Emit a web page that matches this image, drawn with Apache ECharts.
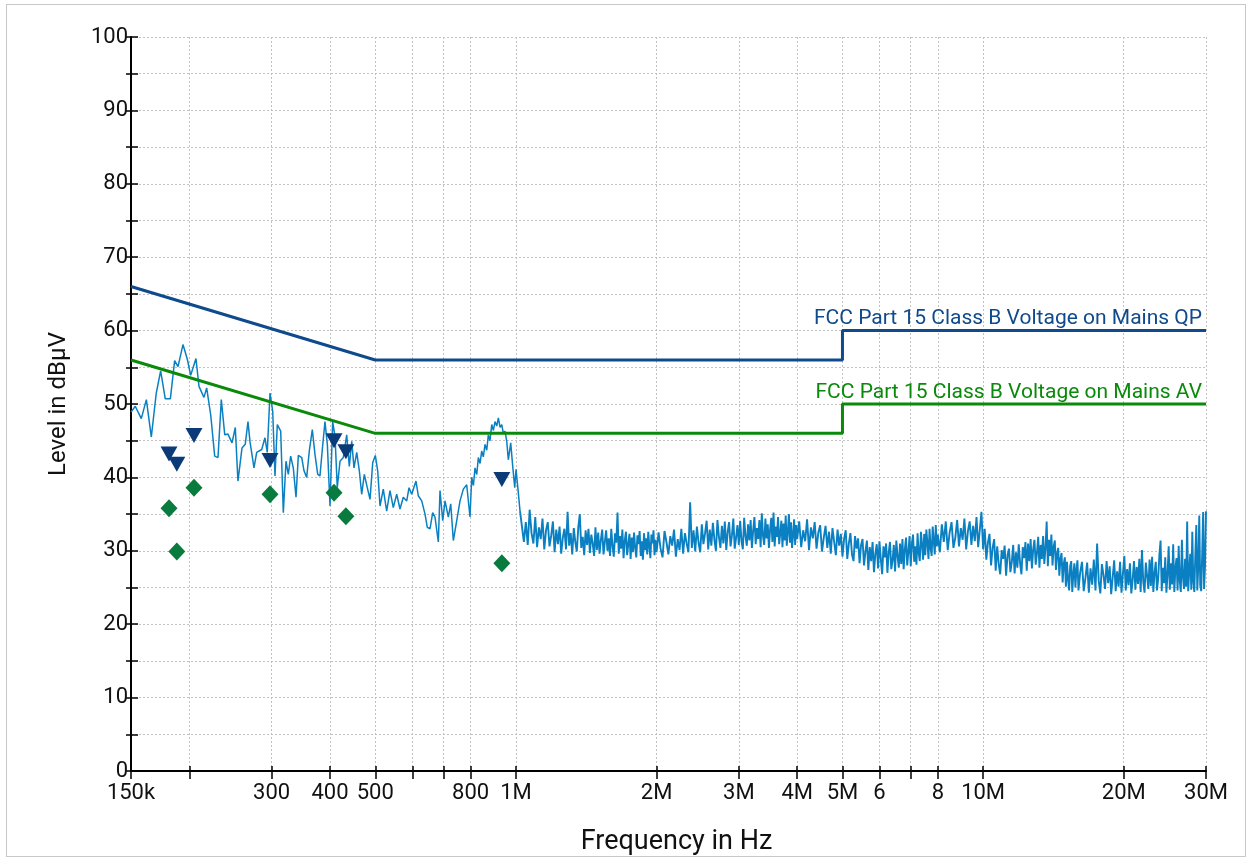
<!DOCTYPE html>
<html><head><meta charset="utf-8">
<script src="https://cdn.jsdelivr.net/npm/echarts@6/dist/echarts.min.js"></script>
<style>
html,body{margin:0;padding:0;background:#fff;}
#frame{position:absolute;left:6px;top:4px;width:1238px;height:851px;border:1px solid #c8c8c8;}
#chart{position:absolute;left:0;top:0;width:1249px;height:861px;}
</style></head><body>
<div id="frame"></div><div id="chart"></div>
<script>
// x ticks (MHz) and their labels
const tickFreqMHz = [0.15,0.2,0.3,0.4,0.5,0.6,0.7,0.8,1,2,3,4,5,6,7,8,10,20,30];
const tickLabelText = ['150k','','300','400','500','','','800','1M','2M','3M','4M','5M','6','','8','10M','20M','30M'];
// limit lines [MHz, dBµV]
const qpLimit = [[0.15,66],[0.5,56],[5,56],[5,60],[30,60]];
const avLimit = [[0.15,56],[0.5,46],[5,46],[5,50],[30,50]];
const qpLimitName = 'FCC Part 15 Class B Voltage on Mains QP';
const avLimitName = 'FCC Part 15 Class B Voltage on Mains AV';
// final measurements [kHz, dBµV]
const qpFinal = [[180.9,43.2],[188.0,41.8],[204.6,45.7],[297.6,42.3],[408.0,45.0],[432.6,43.5],[933.0,39.7]];
const avFinal = [[180.9,35.8],[188.0,29.9],[204.6,38.6],[297.6,37.7],[408.0,37.9],[432.6,34.7],[933.0,28.3]];
// preview scan below ~1 MHz [kHz, dBµV]
const traceLowKHz = [[150,48.9],[153.2,49.7],[157.8,48.0],[161.8,50.6],[165.8,45.5],[169.9,51.5],[173.6,54.5],[177.6,50.7],[182.1,50.7],[186.0,55.9],[189.1,55.1],[193.8,58.1],[198.0,56.1],[201.3,53.9],[206.6,56.2],[209.7,52.4],[214.9,50.9],[217.8,52.2],[222.2,48.5],[226.6,42.9],[230.3,42.7],[234.1,50.6],[238.1,45.8],[241.9,45.9],[246.8,44.7],[250.8,46.8],[254.1,39.5],[259.2,44.0],[263.4,44.5],[267.0,47.6],[269.6,44.9],[275.0,41.3],[278.7,43.4],[285.7,43.8],[290.3,45.4],[293.6,43.4],[297.6,51.5],[301.6,49.0],[305.0,40.2],[308.5,47.2],[313.7,46.3],[317.8,35.2],[322.0,42.2],[325.7,40.4],[329.5,42.9],[333.8,41.3],[338.3,37.3],[342.2,43.0],[348.0,42.7],[351.9,40.9],[356.6,40.0],[361.2,43.6],[366.6,46.5],[371.5,43.1],[376.5,40.4],[380.7,40.2],[385.1,43.8],[390.2,47.6],[394.8,44.5],[400.0,36.1],[405.3,47.6],[410.0,45.6],[414.6,38.6],[420.2,42.2],[427.1,42.7],[434.3,45.8],[439.9,41.5],[445.2,44.9],[450.2,41.3],[456.3,43.4],[462.2,40.9],[467.6,37.7],[473.7,40.4],[480.7,38.6],[487.2,37.0],[493.7,42.0],[500.1,43.0],[506.0,40.9],[511.8,36.1],[520.1,38.4],[528.9,35.4],[537.6,38.2],[546.4,35.9],[555.7,37.7],[564.8,35.7],[574.0,37.3],[583.8,36.8],[590.5,38.6],[598.3,37.7],[611.1,39.5],[618.1,37.5],[628.6,36.8],[638.9,35.0],[646.2,33.2],[654.8,33.0],[663.6,35.2],[671.1,34.6],[682.2,31.2],[687.9,38.2],[697.2,34.1],[705.1,36.8],[716.7,34.6],[725.2,36.4],[734.6,31.4],[747.0,34.1],[759.2,36.8],[771.7,38.4],[784.6,39.0],[797.5,34.6],[804.2,40.0],[811.0,38.9],[817.4,41.3],[824.5,40.4],[830.9,42.7],[838.0,41.9],[844.8,43.6],[851.5,42.8],[858.8,44.5],[866.0,43.7],[872.9,45.8],[880.0,45.0],[887.7,47.2],[895.0,46.4],[902.1,47.6],[910.0,47.0],[917.0,48.1],[925.0,46.8],[932.6,47.2],[940.0,46.0],[947.7,46.3],[955.8,44.9],[963.3,42.4],[974.7,44.7],[984.4,41.5],[994.2,38.6],[1000.6,41.1],[1012.0,37.9],[1020.4,35.4]];
// preview scan 1 - 30 MHz [MHz, dBµV]
const traceHighMHz = [[1.03,35.2],[1.04,31.2],[1.05,33.9],[1.06,30.8],[1.07,35.6],[1.08,32.4],[1.09,31.0],[1.10,34.6],[1.11,30.5],[1.12,33.2],[1.13,31.6],[1.14,34.4],[1.15,30.2],[1.16,32.8],[1.17,33.9],[1.18,30.6],[1.19,32.1],[1.20,34.0],[1.21,29.8],[1.22,32.9],[1.23,30.9],[1.24,33.3],[1.25,29.6],[1.26,31.8],[1.27,33.0],[1.28,30.2],[1.29,35.3],[1.30,30.7],[1.31,32.4],[1.32,29.5],[1.33,33.1],[1.34,31.2],[1.35,29.9],[1.36,33.2],[1.37,35.0],[1.38,30.4],[1.39,31.9],[1.40,29.4],[1.41,32.8],[1.42,30.8],[1.43,33.0],[1.44,29.7],[1.45,32.2],[1.46,31.0],[1.47,29.3],[1.48,33.2],[1.49,30.1],[1.50,32.5],[1.51,29.6],[1.52,31.5],[1.53,32.9],[1.54,29.5],[1.55,31.2],[1.56,32.8],[1.57,30.0],[1.58,31.7],[1.59,29.3],[1.60,33.0],[1.61,30.6],[1.62,29.2],[1.63,32.4],[1.64,31.1],[1.65,35.2],[1.66,29.6],[1.67,32.0],[1.68,30.3],[1.69,32.9],[1.70,29.0],[1.71,31.4],[1.72,32.6],[1.73,29.4],[1.74,30.9],[1.75,32.3],[1.76,28.9],[1.77,31.8],[1.78,29.8],[1.79,32.5],[1.80,30.4],[1.81,29.1],[1.82,32.1],[1.83,30.9],[1.84,32.7],[1.85,29.3],[1.86,31.3],[1.87,28.8],[1.88,32.4],[1.89,30.1],[1.90,31.7],[1.91,29.5],[1.92,32.6],[1.93,30.6],[1.94,29.0],[1.95,32.2],[1.96,31.0],[1.97,32.8],[1.98,29.4],[1.99,31.5],[2.00,29.8],
[2.02,32.5],[2.04,30.3],[2.06,29.1],[2.08,32.7],[2.10,31.2],[2.12,29.5],[2.14,32.0],[2.16,30.7],[2.18,32.9],[2.20,29.2],[2.22,31.6],[2.24,30.1],[2.26,33.0],[2.28,29.6],[2.30,32.4],[2.32,31.0],[2.34,29.8],[2.36,36.6],[2.38,30.4],[2.40,32.8],[2.42,29.9],[2.44,33.3],[2.46,31.1],[2.48,29.8],[2.50,33.6],[2.52,30.9],[2.54,32.4],[2.56,34.1],[2.58,30.2],[2.60,32.9],[2.62,30.7],[2.64,33.8],[2.66,31.5],[2.68,30.0],[2.70,34.2],[2.72,31.9],[2.74,30.4],[2.76,33.4],[2.78,31.0],[2.80,34.0],[2.82,30.1],[2.84,32.6],[2.86,33.9],[2.88,30.6],[2.90,32.1],[2.92,34.4],[2.94,30.3],[2.96,31.8],[2.98,33.5],[3.00,30.8],[3.02,34.1],[3.04,31.3],[3.06,30.2],[3.08,34.5],[3.10,32.0],[3.12,30.7],[3.14,33.6],[3.16,31.4],[3.18,34.2],[3.20,30.4],[3.22,32.8],[3.24,34.6],[3.26,30.9],[3.28,33.1],[3.30,31.6],[3.32,34.2],[3.34,30.5],[3.36,35.1],[3.38,32.0],[3.40,30.8],[3.42,34.4],[3.44,31.7],[3.46,33.6],[3.48,30.4],[3.50,32.9],[3.52,34.5],[3.54,31.2],[3.56,35.2],[3.58,30.6],[3.60,33.3],[3.62,31.9],[3.64,34.6],[3.66,30.9],[3.68,32.4],[3.70,34.1],[3.72,30.5],[3.74,33.7],[3.76,31.4],[3.78,34.8],[3.80,30.7],[3.82,32.6],[3.84,35.0],[3.86,31.1],[3.88,33.9],[3.90,30.4],[3.92,32.2],[3.94,34.3],[3.96,30.8],[3.98,33.5],[4.00,31.6],
[4.04,34.0],[4.08,30.5],[4.12,32.8],[4.16,31.3],[4.20,34.3],[4.24,30.1],[4.28,33.2],[4.32,31.7],[4.36,33.9],[4.40,30.3],[4.44,32.5],[4.48,33.5],[4.52,29.9],[4.56,31.8],[4.60,33.4],[4.64,30.4],[4.68,32.6],[4.72,29.6],[4.76,33.1],[4.80,31.2],[4.84,29.4],[4.88,32.9],[4.92,30.7],[4.96,32.3],[5.00,29.2],[5.04,31.6],[5.08,32.8],[5.12,28.9],[5.16,31.0],[5.20,32.4],[5.24,29.5],[5.28,28.6],[5.32,32.0],[5.36,30.3],[5.40,31.7],[5.44,28.3],[5.48,30.8],[5.52,31.6],[5.56,28.0],[5.60,29.9],[5.64,31.4],[5.68,27.4],[5.72,30.5],[5.76,28.6],[5.80,31.2],[5.84,27.1],[5.88,29.6],[5.92,30.9],[5.96,27.6],[6.00,31.3],[6.04,28.9],[6.08,26.8],[6.12,30.6],[6.16,29.1],[6.20,31.0],[6.24,27.0],[6.28,29.8],[6.32,31.2],[6.36,27.5],[6.40,28.7],[6.44,30.8],[6.48,27.2],[6.52,31.4],[6.56,29.3],[6.60,27.7],[6.64,31.0],[6.68,28.2],[6.72,31.6],[6.76,27.5],[6.80,30.2],[6.84,31.8],[6.88,28.0],[6.92,29.9],[6.96,32.0],[7.00,27.9],[7.04,31.0],[7.08,32.2],[7.12,28.5],[7.16,30.6],[7.20,28.1],[7.24,32.4],[7.28,29.7],[7.32,28.6],[7.36,32.6],[7.40,30.9],[7.44,28.8],[7.48,32.3],[7.52,29.4],[7.56,32.9],[7.60,31.1],[7.64,28.9],[7.68,33.0],[7.72,30.4],[7.76,29.3],[7.80,33.3],[7.84,31.4],[7.88,29.5],[7.92,33.5],[7.96,30.6],[8.00,32.2],
[8.08,29.8],[8.16,33.6],[8.24,31.2],[8.32,34.0],[8.40,30.1],[8.48,32.5],[8.56,33.9],[8.64,30.4],[8.72,31.8],[8.80,34.2],[8.88,30.6],[8.96,33.1],[9.04,31.5],[9.12,34.4],[9.20,30.2],[9.28,32.7],[9.36,34.0],[9.44,30.8],[9.52,33.4],[9.60,31.3],[9.68,34.6],[9.76,30.5],[9.84,32.9],[9.92,35.3],[10.00,30.2],[10.08,33.0],[10.16,28.8],[10.24,31.1],[10.32,32.3],[10.40,28.0],[10.48,30.4],[10.56,31.6],[10.64,27.3],[10.72,30.6],[10.80,28.2],[10.88,26.8],[10.96,30.1],[11.04,28.9],[11.12,30.7],[11.20,26.6],[11.28,29.4],[11.36,30.3],[11.44,27.1],[11.52,28.5],[11.60,30.8],[11.68,26.9],[11.76,29.8],[11.84,27.7],[11.92,30.9],[12.00,28.3],[12.08,26.8],[12.16,30.5],[12.24,29.0],[12.32,31.2],[12.40,27.3],[12.48,31.0],[12.56,28.6],[12.64,31.6],[12.72,27.6],[12.80,30.2],[12.88,31.5],[12.96,28.1],[13.04,29.7],[13.12,31.9],[13.20,27.7],[13.28,30.8],[13.36,28.9],[13.44,32.0],[13.52,28.2],[13.60,30.4],[13.68,34.0],[13.76,27.9],[13.84,31.5],[13.92,29.3],[14.00,32.2],[14.08,28.0],[14.16,30.6],[14.24,31.4],[14.32,27.4],[14.40,29.6],[14.48,30.4],[14.56,26.6],[14.64,28.9],[14.72,29.7],[14.80,25.7],[14.88,28.2],[14.96,29.1],[15.04,25.1],[15.12,28.5],[15.20,26.1],[15.28,24.6],[15.36,27.9],[15.44,28.6],[15.52,24.4],[15.60,26.8],[15.68,28.3],[15.76,25.0],[15.84,27.4],[15.92,28.7],[16.00,24.6],
[16.14,27.1],[16.28,28.5],[16.42,24.5],[16.56,26.3],[16.70,28.4],[16.84,24.3],[16.98,27.6],[17.12,25.4],[17.26,28.8],[17.40,24.6],[17.54,31.0],[17.68,25.9],[17.82,24.2],[17.96,28.2],[18.10,26.7],[18.24,24.8],[18.38,28.6],[18.52,25.6],[18.66,27.9],[18.80,24.1],[18.94,26.4],[19.08,28.7],[19.22,24.5],[19.36,27.2],[19.50,25.1],[19.64,28.5],[19.78,24.3],[19.92,26.9],[20.06,29.3],[20.20,24.6],[20.34,27.5],[20.48,25.3],[20.62,28.3],[20.76,24.2],[20.90,26.1],[21.04,28.6],[21.18,24.7],[21.32,27.8],[21.46,25.5],[21.60,28.9],[21.74,24.4],[21.88,30.1],[22.02,25.8],[22.16,24.3],[22.30,28.4],[22.44,26.6],[22.58,24.8],[22.72,28.8],[22.86,25.2],[23.00,29.2],[23.14,24.4],[23.28,27.0],[23.42,28.5],[23.56,24.6],[23.70,26.2],[23.84,29.4],[23.98,31.4],[24.12,24.5],[24.26,27.7],[24.40,25.6],[24.54,29.1],[24.68,24.3],[24.82,26.8],[24.96,30.6],[25.10,24.7],[25.24,28.3],[25.38,25.4],[25.52,30.9],[25.66,24.4],[25.80,27.6],[25.94,29.0],[26.08,24.6],[26.22,30.7],[26.36,25.9],[26.50,24.4],[26.64,31.5],[26.78,26.4],[26.92,24.8],[27.06,28.9],[27.20,25.1],[27.34,34.0],[27.48,24.5],[27.62,27.3],[27.76,29.6],[27.90,24.7],[28.04,32.6],[28.18,25.8],[28.32,24.4],[28.46,29.4],[28.60,33.5],[28.74,24.6],[28.88,27.9],[29.02,34.8],[29.16,25.3],[29.30,24.5],[29.44,29.5],[29.58,35.3],[29.72,24.8],[29.86,28.1],[30.00,35.4]];

const FONT = 'Roboto, "Liberation Sans", Arial, sans-serif';
const TRACE_COLOR = '#0a80c2';
const lg = Math.log10;
const xMin = lg(tickFreqMHz[0]), xMax = lg(tickFreqMHz[tickFreqMHz.length-1]);
const tickPos = tickFreqMHz.map(lg);
function tickLabel(v){
  const i = tickPos.findIndex(p => Math.abs(p - v) < 1e-6);
  return i >= 0 ? tickLabelText[i] : '';
}
const lowData = traceLowKHz.map(d => [lg(d[0]/1000), d[1]]);
const highData = [lowData[lowData.length - 1]].concat(traceHighMHz.map(d => [lg(d[0]), d[1]]));
const toXY = arr => arr.map(d => [lg(d[0]), d[1]]);
function limitSeries(arr, name, color){
  return {
    type: 'line', name: name, data: toXY(arr), symbol: 'none', showSymbol: false,
    lineStyle: {color: color, width: 3}, z: 3, silent: true,
    endLabel: {show: true, formatter: name, align: 'right', verticalAlign: 'bottom', distance: -4,
      color: color, fontSize: 21, fontFamily: FONT, padding: [0, 0, 1, 0]}
  };
}
const chart = echarts.init(document.getElementById('chart'), null, {renderer: 'canvas'});
chart.setOption({
  animation: false,
  backgroundColor: 'transparent',
  grid: {left: 131, right: 43, top: 37, bottom: 86, containLabel: false},
  xAxis: [{
    type: 'value', min: xMin, max: xMax, position: 'bottom',
    axisLine: {show: true, onZero: false, lineStyle: {color: '#000', width: 2}},
    axisTick: {show: true, customValues: tickPos, length: 8, lineStyle: {color: '#000', width: 1.5}},
    axisLabel: {customValues: tickPos, formatter: tickLabel, fontSize: 22, color: '#111', margin: 11, fontFamily: FONT, showMinLabel: true, showMaxLabel: true},
    splitLine: {show: true, lineStyle: {color: '#c2c2c2', width: 1, type: [2, 2]}},
    name: 'Frequency in Hz', nameLocation: 'middle', nameGap: 58,
    nameTextStyle: {fontSize: 27, color: '#111', fontFamily: FONT, padding: [0, 0, 0, 16]}
  }, {
    type: 'value', min: xMin, max: xMax, position: 'bottom',
    axisLine: {show: false, onZero: false},
    axisTick: {show: true, inside: true, customValues: tickPos, length: 5, lineStyle: {color: '#000', width: 1.5}},
    axisLabel: {show: false}, splitLine: {show: false}
  }],
  yAxis: [{
    type: 'value', min: 0, max: 100, interval: 5, position: 'left',
    axisLine: {show: true, onZero: false, lineStyle: {color: '#000', width: 2}},
    axisTick: {show: true, length: 5, lineStyle: {color: '#000', width: 1.5}},
    axisLabel: {formatter: v => (v % 10 === 0 ? String(v) : ''), fontSize: 22, color: '#111', margin: 3, fontFamily: FONT},
    splitLine: {show: true, lineStyle: {color: '#c2c2c2', width: 1, type: [2, 2]}},
    name: 'Level in dBµV', nameLocation: 'middle', nameGap: 60, nameRotate: 90,
    nameTextStyle: {fontSize: 24, color: '#111', fontFamily: FONT}
  }, {
    type: 'value', min: 0, max: 100, interval: 5, position: 'left',
    axisLine: {show: false, onZero: false},
    axisTick: {show: true, inside: true, length: 7, lineStyle: {color: '#000', width: 1.5}},
    axisLabel: {show: false}, splitLine: {show: false}
  }],
  series: [{
    type: 'line', name: 'Preview', data: lowData, showSymbol: false, symbol: 'none',
    lineStyle: {color: TRACE_COLOR, width: 1.5}, z: 2, silent: true
  }, {
    type: 'line', name: 'Preview ', data: highData, showSymbol: false, symbol: 'none',
    lineStyle: {color: TRACE_COLOR, width: 1.9}, z: 2, silent: true
  },
  limitSeries(qpLimit, qpLimitName, '#0e4a8c'),
  limitSeries(avLimit, avLimitName, '#0a8a0a'),
  {
    type: 'scatter', name: 'QP', data: qpFinal.map(d => [lg(d[0]/1000), d[1]]),
    symbol: 'triangle', symbolRotate: 180, symbolSize: [17, 15],
    itemStyle: {color: '#0b3a78', opacity: 1}, z: 5, silent: true
  }, {
    type: 'scatter', name: 'AV', data: avFinal.map(d => [lg(d[0]/1000), d[1]]),
    symbol: 'diamond', symbolSize: [17, 18],
    itemStyle: {color: '#0a7b3e', opacity: 1}, z: 5, silent: true
  }]
});
</script>
</body></html>
